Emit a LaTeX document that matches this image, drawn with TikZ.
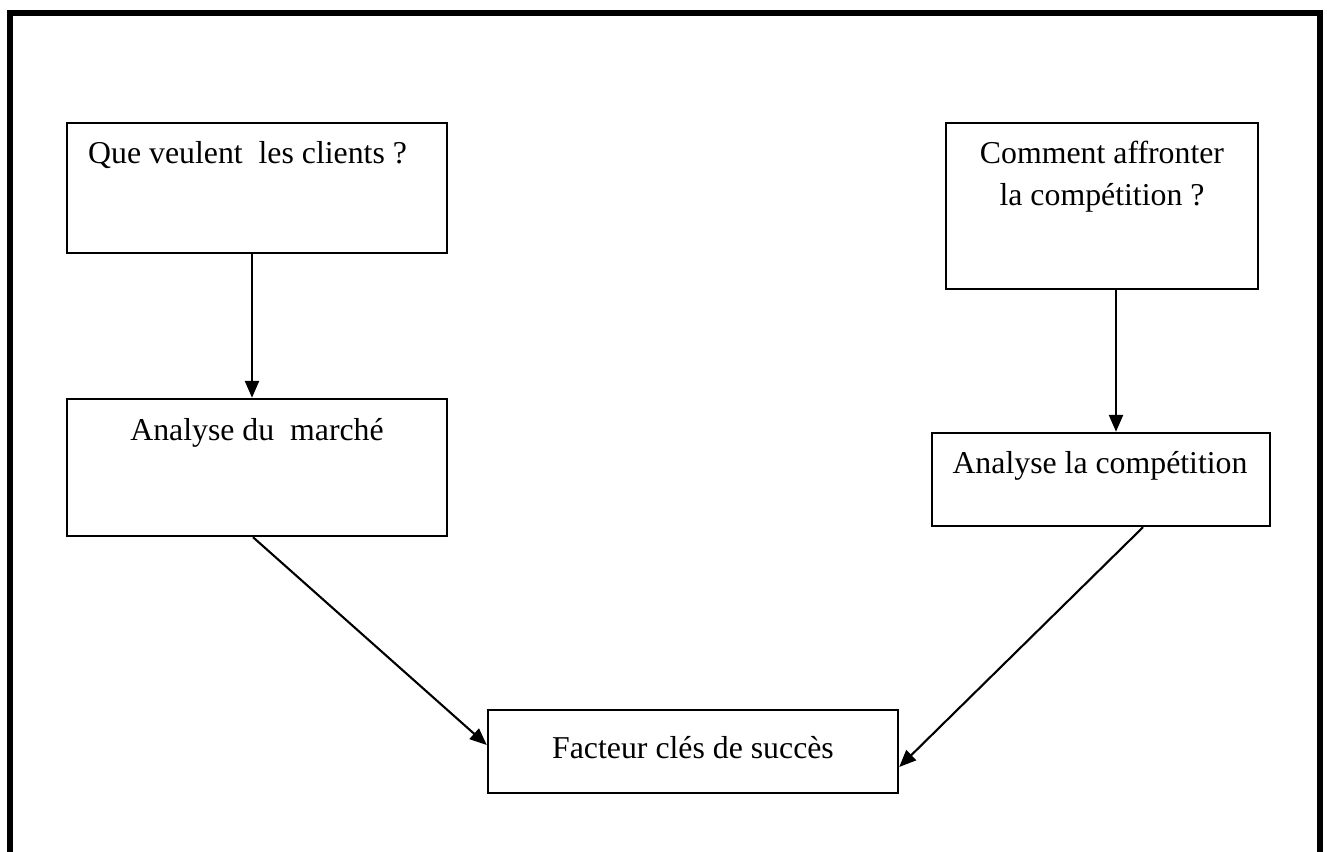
\documentclass[tikz,border=0pt]{standalone}
\usepackage{fontspec}
\setmainfont{Liberation Serif}
\usetikzlibrary{arrows.meta}
\begin{document}
\begin{tikzpicture}[x=1pt,y=-1pt,
  box/.style={draw,line width=2.4pt,rectangle,inner sep=0pt},
  lbl/.style={anchor=base,inner sep=0pt,font=\fontsize{31.8}{38}\selectfont},
  link/.style={line width=2.5pt,-{Triangle[length=17pt,width=14pt]}},
  slant/.style={line width=2.1pt,-{Triangle[length=17pt,width=14pt]}}]
\useasboundingbox (0,0) rectangle (1327,851);
\fill[white] (0,0) rectangle (1327,851);
% outer frame, open at the bottom
\draw[line width=6pt] (10,860) -- (10,13) -- (1320,13) -- (1320,860);
% boxes
\node[box,minimum width=380pt,minimum height=130pt] (b1) at (257,188) {};
\node[box,minimum width=380pt,minimum height=137pt] (b2) at (257,467.5) {};
\node[box,minimum width=312pt,minimum height=166pt] (b3) at (1102,206) {};
\node[box,minimum width=338pt,minimum height=93pt] (b4) at (1101,479.5) {};
\node[box,minimum width=410pt,minimum height=83pt] (b5) at (693,751.5) {};
% texts
\node[lbl,anchor=base west] (t1) at (88,163) {Que veulent\ \ les clients ?};
\node[lbl] (t2) at (257,440) {Analyse du\ \ marché};
\node[lbl] (t3a) at (1102,163) {Comment affronter};
\node[lbl] (t3b) at (1102,205) {la compétition ?};
\node[lbl] (t4) at (1100,473) {Analyse la compétition};
\node[lbl] (t5) at (693,758) {Facteur clés de succès};
% connectors
\draw[link] ([xshift=-5pt]b1.south) coordinate (s1) -- (s1 |- b2.north);
\draw[link] ([xshift=14pt]b3.south) coordinate (s3) -- (s3 |- b4.north);
\draw[slant] ([xshift=-4pt]b2.south) -- ([yshift=6.5pt]b5.west);
\draw[slant] ([xshift=42pt]b4.south) -- ([yshift=-15.5pt]b5.east);
\end{tikzpicture}
\end{document}
